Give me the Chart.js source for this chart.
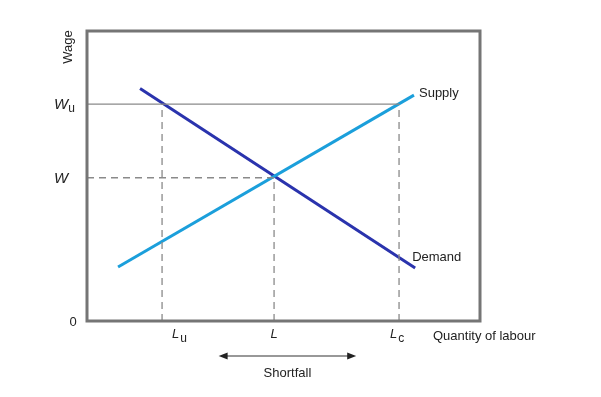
<!DOCTYPE html>
<html>
<head>
<meta charset="utf-8">
<script src="https://cdn.jsdelivr.net/npm/chart.js@4"></script>
<style>
  html, body { margin: 0; padding: 0; background: #fff; }
  #wrap { width: 601px; height: 397px; }
</style>
</head>
<body>
<div id="wrap"><canvas id="myChart"></canvas></div>
<script>
// values (axes run 0..100 in both directions)
const supplyX = [7.9, 83.2];
const supplyY = [18.6, 77.9];
const demandX = [13.5, 83.5];
const demandY = [80.2, 18.3];

const labourTicks = [19.1, 47.6, 79.4];
const labourNames = ['L', 'L', 'L'];
const labourSubs = ['u', '', 'c'];

const wageTicks = [74.8, 49.4];
const wageNames = ['W', 'W'];
const wageSubs = ['u', ''];

const shortfallFrom = 33.5;
const shortfallTo = 68.5;

function pts(xs, ys) {
  return xs.map((x, i) => ({ x: x, y: ys[i] }));
}

const guideGray = '#8a8a8a';
const dash = [7, 5];

// guide lines (Wu solid, the rest dashed)
const guides = [
  { data: pts([0, labourTicks[2]], [wageTicks[0], wageTicks[0]]), dash: [] },
  { data: pts([0, labourTicks[1]], [wageTicks[1], wageTicks[1]]), dash: dash },
  { data: pts([labourTicks[0], labourTicks[0]], [0, wageTicks[0]]), dash: dash },
  { data: pts([labourTicks[1], labourTicks[1]], [0, wageTicks[1]]), dash: dash },
  { data: pts([labourTicks[2], labourTicks[2]], [0, wageTicks[0]]), dash: dash }
];

const datasets = guides.map(g => ({
  data: g.data,
  borderColor: guideGray,
  borderWidth: 1.3,
  borderDash: g.dash,
  pointRadius: 0,
  showLine: true
}));
datasets.push({
  data: pts(supplyX, supplyY),
  borderColor: '#1b9fdb',
  borderWidth: 3,
  pointRadius: 0,
  showLine: true
});
datasets.push({
  data: pts(demandX, demandY),
  borderColor: '#2a33ad',
  borderWidth: 3,
  pointRadius: 0,
  showLine: true
});

const FONT = '"Liberation Sans", Arial, sans-serif';

const annotate = {
  id: 'annotate',
  afterDraw(chart) {
    const ctx = chart.ctx;
    const xs = chart.scales.x, ys = chart.scales.y;
    const a = chart.chartArea;
    ctx.save();
    // frame
    ctx.strokeStyle = '#757575';
    ctx.lineWidth = 3;
    ctx.strokeRect(a.left, a.top, a.right - a.left, a.bottom - a.top);

    ctx.fillStyle = '#222';
    ctx.textBaseline = 'middle';

    // x labels
    labourTicks.forEach((v, i) => {
      const px = xs.getPixelForValue(v);
      ctx.font = 'italic 13px ' + FONT;
      const w1 = ctx.measureText(labourNames[i]).width;
      let left = px - w1 / 2;
      if (labourSubs[i] === 'u') left = px + 10;
      if (labourSubs[i] === 'c') left = px - 9;
      ctx.textAlign = 'left';
      ctx.fillText(labourNames[i], left, a.bottom + 13);
      if (labourSubs[i]) {
        ctx.font = '12px ' + FONT;
        ctx.fillText(labourSubs[i], left + w1 + 1, a.bottom + 18);
      }
    });

    // y labels
    wageTicks.forEach((v, i) => {
      const py = ys.getPixelForValue(v);
      ctx.textAlign = 'left';
      ctx.font = 'italic 15px ' + FONT;
      ctx.fillText(wageNames[i], 54, py + 1);
      if (wageSubs[i]) {
        const w = ctx.measureText(wageNames[i]).width;
        ctx.font = '12px ' + FONT;
        ctx.fillText(wageSubs[i], 54 + w, py + 5);
      }
    });
    ctx.font = '13px ' + FONT;
    ctx.textAlign = 'center';
    ctx.fillText('0', 73, ys.getPixelForValue(0) + 1);

    // axis titles
    ctx.textAlign = 'left';
    ctx.fillText('Quantity of labour', 433, a.bottom + 15);
    ctx.save();
    ctx.translate(68, 47);
    ctx.rotate(-Math.PI / 2);
    ctx.textAlign = 'center';
    ctx.font = '13px ' + FONT;
    ctx.fillText('Wage', 0, 0);
    ctx.restore();

    // curve names
    ctx.font = '13px ' + FONT;
    ctx.textAlign = 'left';
    const sEnd = supplyX.length - 1;
    ctx.fillText('Supply', xs.getPixelForValue(supplyX[sEnd]) + 5, ys.getPixelForValue(supplyY[sEnd]) - 2);
    ctx.fillText('Demand', xs.getPixelForValue(demandX[demandX.length - 1]) - 3, ys.getPixelForValue(demandY[demandY.length - 1]) - 11);

    // shortfall arrow
    const ay = a.bottom + 35;
    const x1 = xs.getPixelForValue(shortfallFrom), x2 = xs.getPixelForValue(shortfallTo);
    ctx.strokeStyle = '#333';
    ctx.lineWidth = 1.2;
    ctx.beginPath();
    ctx.moveTo(x1 + 4, ay);
    ctx.lineTo(x2 - 4, ay);
    ctx.stroke();
    ctx.fillStyle = '#222';
    ctx.beginPath();
    ctx.moveTo(x1, ay); ctx.lineTo(x1 + 9, ay - 3.5); ctx.lineTo(x1 + 9, ay + 3.5); ctx.closePath();
    ctx.fill();
    ctx.beginPath();
    ctx.moveTo(x2, ay); ctx.lineTo(x2 - 9, ay - 3.5); ctx.lineTo(x2 - 9, ay + 3.5); ctx.closePath();
    ctx.fill();
    ctx.textAlign = 'center';
    ctx.font = '13px ' + FONT;
    ctx.fillText('Shortfall', (x1 + x2) / 2, ay + 17);
    ctx.restore();
  }
};

const ctx = document.getElementById('myChart');
new Chart(ctx, {
  type: 'scatter',
  data: { datasets: datasets },
  options: {
    responsive: true,
    maintainAspectRatio: false,
    animation: false,
    layout: { padding: { left: 87, top: 31, right: 121, bottom: 76 } },
    plugins: { legend: { display: false }, tooltip: { enabled: false } },
    scales: {
      x: { type: 'linear', min: 0, max: 100, display: false },
      y: { type: 'linear', min: 0, max: 100, display: false }
    }
  },
  plugins: [annotate]
});
</script>
</body>
</html>
